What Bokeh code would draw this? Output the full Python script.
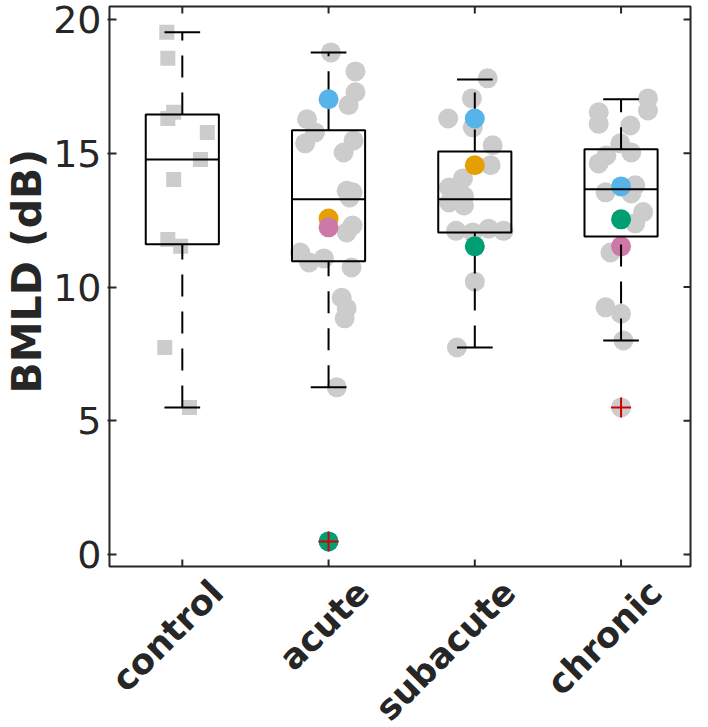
import numpy as np
from bokeh.plotting import figure
from bokeh.models import Range1d, LinearAxis, FixedTicker, ColumnDataSource, Title
from bokeh.core.properties import value
from bokeh.embed import file_html
from bokeh.resources import INLINE

# ---------------- data ----------------
groups = ["control", "acute", "subacute", "chronic"]
group_pos = [1, 2, 3, 4]
y_ticks = [0, 5, 10, 15, 20]
y_label = "BMLD (dB)"

# box-plot statistics per group
box_q1 = [11.60, 10.96, 12.04, 11.89]
box_med = [14.77, 13.28, 13.28, 13.65]
box_q3 = [16.45, 15.86, 15.07, 15.15]
whisk_lo = [5.50, 6.25, 7.74, 8.00]
whisk_hi = [19.52, 18.77, 17.76, 17.02]

# control subjects (grey squares): value and horizontal jitter
control_vals = [19.52, 18.55, 16.53, 16.30, 15.78, 14.77, 14.02, 11.78, 11.52, 7.74, 5.50]
control_jit = [-0.106, -0.099, -0.059, -0.099, 0.171, 0.124, -0.059, -0.099, -0.011, -0.120, 0.049]

# patient groups (grey circles)
acute_vals = [18.77, 18.06, 17.28, 16.80, 16.27, 15.78, 15.37, 15.48, 15.03, 13.60, 13.54,
              13.35, 12.30, 12.04, 11.29, 10.92, 11.07, 10.73, 9.60, 9.20, 8.83, 6.25]
acute_jit = [0.016, 0.184, 0.184, 0.137, -0.147, -0.093, -0.160, 0.171, 0.103, 0.124, 0.164,
             0.144, 0.164, 0.124, -0.194, -0.133, -0.032, 0.157, 0.090, 0.124, 0.110, 0.056]

subacute_vals = [17.80, 17.05, 16.30, 15.97, 15.30, 14.55, 14.06, 13.72, 13.39, 13.16, 13.05,
                 12.10, 12.04, 12.18, 12.10, 10.20, 7.74]
subacute_jit = [0.088, -0.020, -0.182, -0.014, 0.122, 0.108, -0.081, -0.176, -0.074, -0.176, -0.074,
                -0.128, -0.014, 0.095, 0.196, 0.000, -0.122]

chronic_vals = [17.05, 16.60, 16.53, 16.10, 16.04, 15.37, 15.03, 14.92, 14.62, 13.80, 13.54,
                13.50, 12.80, 12.38, 11.29, 9.24, 9.00, 8.00, 5.50]
chronic_jit = [0.184, 0.184, -0.153, -0.153, 0.063, -0.005, 0.070, -0.100, -0.153, 0.097, -0.106,
               0.070, 0.151, 0.097, -0.072, -0.106, 0.000, 0.016, 0.000]

# highlighted individual patients
hl_group = [2, 2, 2, 2, 3, 3, 3, 4, 4, 4]
hl_vals = [17.02, 12.56, 12.23, 0.49, 16.30, 14.55, 11.52, 13.76, 12.53, 11.52]
hl_color = ["#56B4E9", "#E69F00", "#CC79A7", "#009E73",
            "#56B4E9", "#E69F00", "#009E73",
            "#56B4E9", "#009E73", "#CC79A7"]

# outliers flagged by the box plot
out_group = [2, 4]
out_vals = [0.49, 5.50]

# ---------------- layout constants ----------------
AX = "#262626"
GREY = "#CCCCCC"
PX_X, PX_Y = 148.0, 26.75            # pixels per data unit
BOX_X0, BOX_X1 = 0.502, 4.475        # axes box (drawn by hand)
BOX_Y0, BOX_Y1 = -0.449, 20.486
X0, X1 = 0.4885, 4.4885              # plotting frame (a little larger than the box,
Y0, Y1 = -6.467, 20.561              # extended downward to hold the rotated labels)
LAB_DX, LAB_DY = 35 / PX_X, 20 / PX_Y

p = figure(width=692, height=727, output_backend="svg", toolbar_location=None,
           x_range=Range1d(X0, X1), y_range=Range1d(Y0, Y1),
           min_border_left=100, min_border_right=0, min_border_top=4, min_border_bottom=0,
           x_axis_location=None, y_axis_location=None)
p.grid.visible = False
p.outline_line_color = None
p.background_fill_color = "white"
p.border_fill_color = "white"

# y axis (tick labels); its line is replaced by the hand-drawn box
yax = LinearAxis(ticker=FixedTicker(ticks=y_ticks))
yax.major_tick_in = 9
yax.major_tick_out = 0
yax.minor_tick_line_color = None
yax.axis_line_color = None
yax.major_tick_line_color = AX
yax.major_tick_line_width = 2
yax.major_label_text_font = "DejaVu Sans"
yax.major_label_text_font_size = "38px"
yax.major_label_text_color = AX
yax.major_label_standoff = 6
p.add_layout(yax, "left")

# y-axis title
ytitle = Title(text=y_label, align="left", offset=334, standoff=0, vertical_align="bottom",
               text_font="DejaVu Sans", text_font_style="bold",
               text_font_size="41px", text_color=AX)
p.add_layout(ytitle, "left")

# grey individual points
cx = [1 + j for j in control_jit]
p.scatter(cx, control_vals, marker="square", size=15, fill_color=GREY, line_color=None)

gx, gy = [], []
for pos, vals, jit in ((2, acute_vals, acute_jit), (3, subacute_vals, subacute_jit),
                       (4, chronic_vals, chronic_jit)):
    gx += [pos + j for j in jit]
    gy += vals
p.scatter(gx, gy, marker="circle", size=20, fill_color=GREY, line_color=None)

hl_late = ColumnDataSource(dict(x=[g for g in hl_group if g != 4],
                                y=[v for g, v in zip(hl_group, hl_vals) if g != 4],
                                c=[c for g, c in zip(hl_group, hl_color) if g != 4]))
hl_early = ColumnDataSource(dict(x=[g for g in hl_group if g == 4],
                                 y=[v for g, v in zip(hl_group, hl_vals) if g == 4],
                                 c=[c for g, c in zip(hl_group, hl_color) if g == 4]))
p.scatter("x", "y", source=hl_early, marker="circle", size=20, fill_color="c", line_color=None)

# box plot
bw = 0.25
cw = 0.122
p.quad(left=[x - bw for x in group_pos], right=[x + bw for x in group_pos],
       bottom=box_q1, top=box_q3, fill_color=None, line_color="black", line_width=2)
p.segment(x0=[x - bw for x in group_pos], x1=[x + bw for x in group_pos],
          y0=box_med, y1=box_med, line_color="black", line_width=2)
p.segment(x0=group_pos, x1=group_pos, y0=box_q3, y1=whisk_hi,
          line_color="black", line_width=2, line_dash="22 15")
p.segment(x0=group_pos, x1=group_pos, y0=whisk_lo, y1=box_q1,
          line_color="black", line_width=2, line_dash="22 15")
p.segment(x0=[x - cw for x in group_pos], x1=[x + cw for x in group_pos],
          y0=whisk_hi, y1=whisk_hi, line_color="black", line_width=2)
p.segment(x0=[x - cw for x in group_pos], x1=[x + cw for x in group_pos],
          y0=whisk_lo, y1=whisk_lo, line_color="black", line_width=2)

p.scatter("x", "y", source=hl_late, marker="circle", size=20, fill_color="c", line_color=None)

# outliers
p.scatter(out_group, out_vals, marker="cross", size=20, line_color="#D40000", line_width=2)

# axes box and inward ticks on bottom, top and right edges
p.quad(left=[BOX_X0], right=[BOX_X1], bottom=[BOX_Y0], top=[BOX_Y1],
       fill_color=None, line_color=AX, line_width=2)
tick_kw = dict(length=7, length_units="screen", line_color=AX, line_width=2)
p.ray(x=group_pos, y=[BOX_Y0] * len(group_pos), angle=np.pi / 2, **tick_kw)
p.ray(x=group_pos, y=[BOX_Y1] * len(group_pos), angle=-np.pi / 2, **tick_kw)
p.ray(x=[BOX_X1] * len(y_ticks), y=y_ticks, angle=np.pi, **tick_kw)

# rotated category labels under the box
lab_src = ColumnDataSource(dict(x=[g + LAB_DX for g in group_pos],
                                y=[BOX_Y0 - LAB_DY] * len(group_pos), text=groups))
p.text(x="x", y="y", text="text", source=lab_src, angle=np.pi / 4,
       text_align="right", text_baseline="middle",
       text_font=value("DejaVu Sans"), text_font_style="bold",
       text_font_size="35px", text_color=AX)

open("out.html", "w").write(file_html(p, INLINE))
